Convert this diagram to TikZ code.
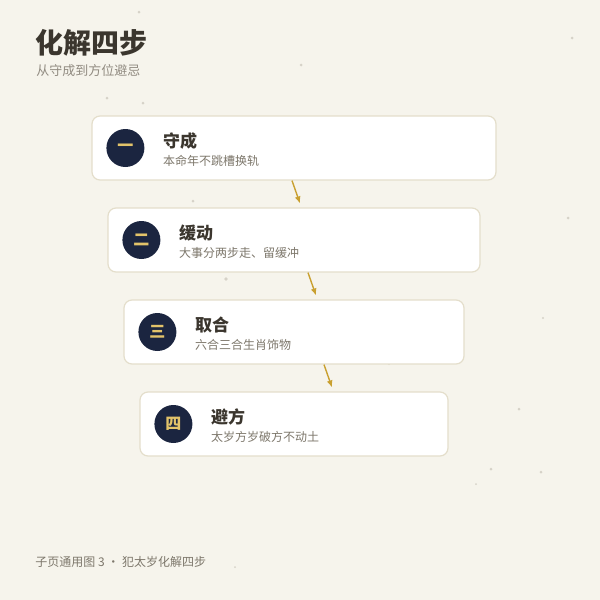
\documentclass[tikz,border=0pt]{standalone}
\usepackage{fontspec}
\setmainfont{Noto Sans CJK SC}
\usetikzlibrary{positioning, arrows.meta}
\definecolor{paper}{HTML}{F6F4EC}
\definecolor{edge}{HTML}{E4DECB}
\definecolor{navy}{HTML}{1B2540}
\definecolor{gold}{HTML}{C9A030}
\definecolor{numgold}{HTML}{E2C36A}
\definecolor{ink}{HTML}{3B362E}
\definecolor{grey}{HTML}{7D776B}
\definecolor{dust}{HTML}{D6D2C8}
\tikzstyle{card}=[draw=edge, line width=0.6pt, fill=white, rounded corners=4pt, minimum height=32pt, inner sep=0pt]
\tikzstyle{badge}=[circle, fill=navy, minimum size=19pt, inner sep=0pt, text=numgold, font=\fontsize{8}{8}\selectfont\bfseries]
\tikzstyle{steptitle}=[anchor=west, inner sep=0pt, text=ink, font=\fontsize{8.5}{8.5}\selectfont\bfseries]
\tikzstyle{stepnote}=[anchor=west, inner sep=0pt, text=grey, font=\fontsize{6}{6}\selectfont]
\tikzstyle{flow}=[draw=gold, line width=0.7pt, -{Latex[length=3.5pt, width=3pt]}]

\begin{document}
\begin{tikzpicture}[x=0.5pt, y=-0.5pt]
% Paper
    \fill[paper] (0,0) rectangle (600,600);
    \useasboundingbox (0,0) rectangle (600,600);
% Dust
    \fill[dust] (139,12) circle(1.5);
    \fill[dust] (572,38) circle(1.5);
    \fill[dust] (301,65) circle(1.5);
    \fill[dust] (107,98) circle(1.5);
    \fill[dust] (143,103) circle(1.5);
    \fill[dust] (193,201) circle(1.5);
    \fill[dust] (568,218) circle(1.5);
    \fill[dust] (226,279) circle(1.8);
    \fill[dust] (543,318) circle(1.2);
    \fill[dust] (389,364) circle(1.2);
    \fill[dust] (519,409) circle(1.5);
    \fill[dust] (491,469) circle(1.5);
    \fill[dust] (541,472) circle(1.5);
    \fill[dust] (476,484) circle(1.0);
    \fill[dust] (235,567) circle(1.0);
% Heading
    \node[anchor=west, inner sep=0pt, text=ink, font=\fontsize{14}{14}\selectfont\bfseries] (head) at (35,43) {化解四步};
    \node[anchor=west, inner sep=0pt, text=grey!85, font=\fontsize{6.5}{6.5}\selectfont] (subhead) at (36,71) {从守成到方位避忌};
% Cards
    \node[card, minimum width=202pt] (card1) at (294,148) {};
    \node[card, minimum width=186pt] (card2) at (294,240) {};
    \node[card, minimum width=170pt] (card3) at (294,332) {};
    \node[card, minimum width=154pt] (card4) at (294,424) {};
% Badges
    \node[badge] (num1) at ([xshift=17pt]card1.west) {一};
    \node[badge] (num2) at ([xshift=17pt]card2.west) {二};
    \node[badge] (num3) at ([xshift=17pt]card3.west) {三};
    \node[badge] (num4) at ([xshift=17pt]card4.west) {四};
% Titles and notes
    \node[steptitle] (title1) at ([xshift=9pt, yshift=3.5pt]num1.east) {守成};
    \node[stepnote] (note1) at ([xshift=9pt, yshift=-6.5pt]num1.east) {本命年不跳槽换轨};
    \node[steptitle] (title2) at ([xshift=9pt, yshift=3.5pt]num2.east) {缓动};
    \node[stepnote] (note2) at ([xshift=9pt, yshift=-6.5pt]num2.east) {大事分两步走、留缓冲};
    \node[steptitle] (title3) at ([xshift=9pt, yshift=3.5pt]num3.east) {取合};
    \node[stepnote] (note3) at ([xshift=9pt, yshift=-6.5pt]num3.east) {六合三合生肖饰物};
    \node[steptitle] (title4) at ([xshift=9pt, yshift=3.5pt]num4.east) {避方};
    \node[stepnote] (note4) at ([xshift=9pt, yshift=-6.5pt]num4.east) {太岁方岁破方不动土};
% Arrows
    \draw[flow] ([xshift=-1pt]card1.south) -- ([xshift=3pt, yshift=2pt]card2.north);
    \draw[flow] ([xshift=7pt]card2.south) -- ([xshift=11pt, yshift=2pt]card3.north);
    \draw[flow] ([xshift=15pt]card3.south) -- ([xshift=19pt, yshift=2pt]card4.north);
% Footer
    \node[anchor=west, inner sep=0pt, text=grey, font=\fontsize{6}{6}\selectfont] (foot) at (35,562) {子页通用图 3 · 犯太岁化解四步};
\end{tikzpicture}
\end{document}
